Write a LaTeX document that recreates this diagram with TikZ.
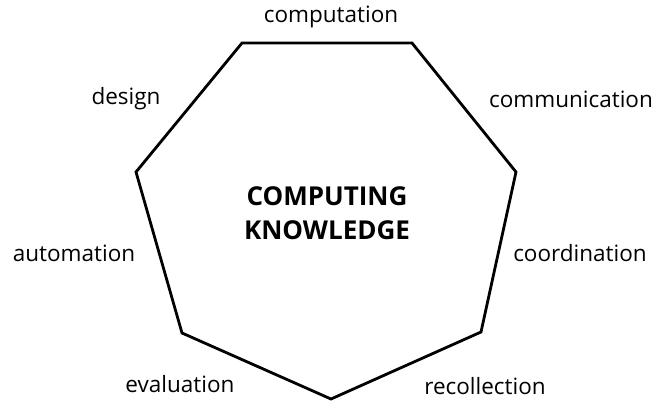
\documentclass[tikz,border=0pt]{standalone}
\usepackage{fontspec}
\setmainfont{Open Sans}
\usetikzlibrary{positioning}

\begin{document}
\begin{tikzpicture}[x=1pt,y=-1pt,
    edgelabel/.style={font=\fontsize{22.5}{26}\selectfont, inner sep=0pt},
    centrelabel/.style={font=\fontsize{26}{34}\selectfont\bfseries, align=center, inner sep=0pt},]
    \useasboundingbox (0,0) rectangle (655,401);
    % corners
    \coordinate (tl) at (242,43);
    \coordinate (tr) at (412,43);
    \coordinate (ru) at (516,172);
    \coordinate (rl) at (481,332);
    \coordinate (bo) at (331,399);
    \coordinate (ll) at (182,333);
    \coordinate (lu) at (136,172);
    % outline
    \draw[line width=2.8pt, line join=miter] (tl) -- (tr) -- (ru) -- (rl) -- (bo) -- (ll) -- (lu) -- cycle;
    % labels
    \node[centrelabel]  (know)  at (327,213)  {COMPUTING\\KNOWLEDGE};
    \node[edgelabel]    (comp)  at (331,17)   {computation};
    \node[edgelabel]    (comm)  at (571,99)   {communication};
    \node[edgelabel]    (coor)  at (580,253)  {coordination};
    \node[edgelabel]    (reco)  at (485,386)  {recollection};
    \node[edgelabel]    (eval)  at (180,384)  {evaluation};
    \node[edgelabel]    (auto)  at (74,253)   {automation};
    \node[edgelabel]    (desi)  at (126,99)   {design};
\end{tikzpicture}
\end{document}
